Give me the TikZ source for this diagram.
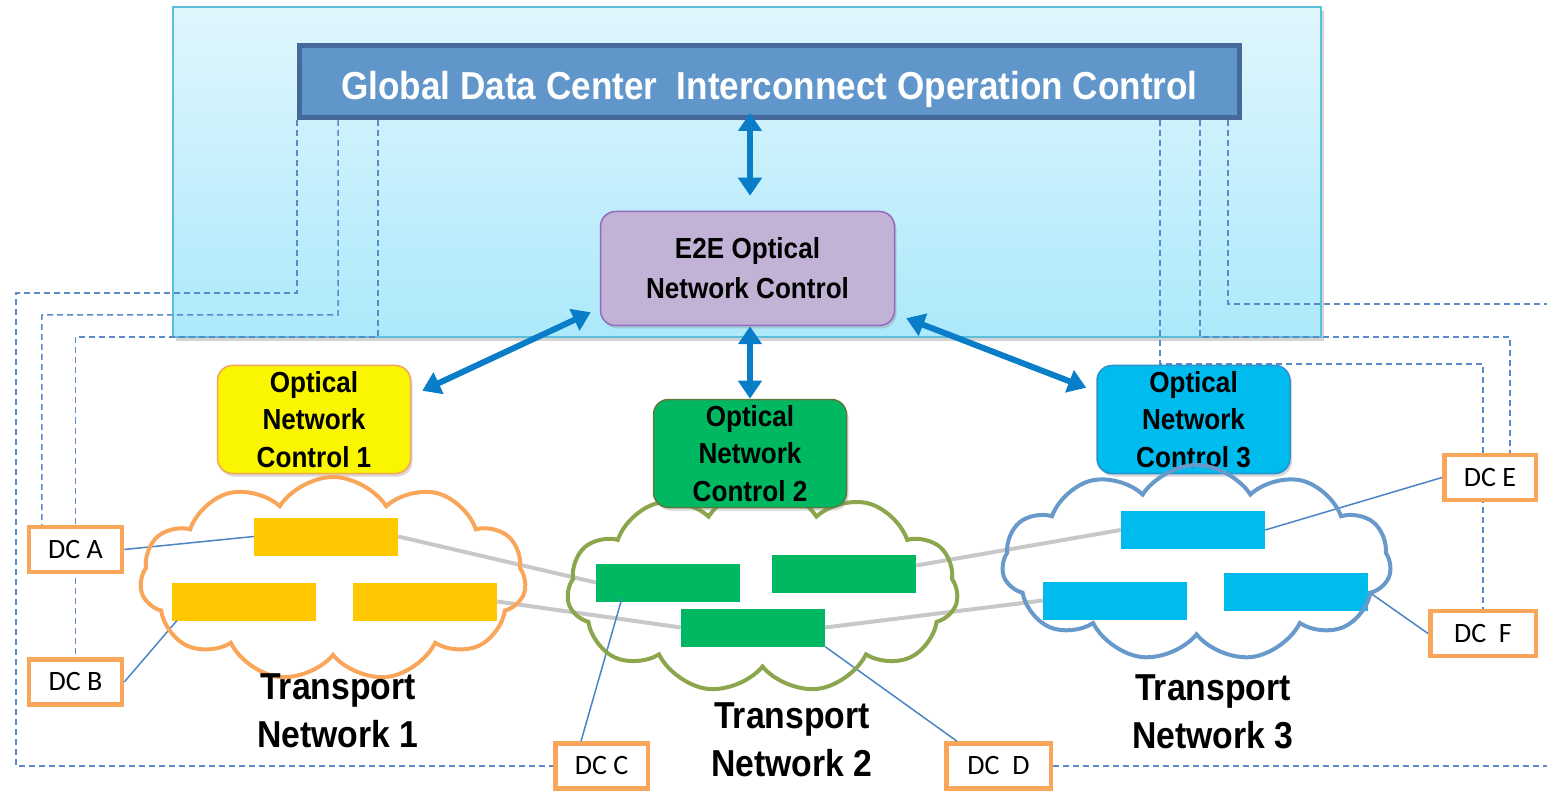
\documentclass[tikz,border=0pt]{standalone}
\usepackage{fontspec}
\setmainfont{Liberation Sans}
\newfontfamily\nar[FakeStretch=0.9]{Liberation Sans}
\newfontfamily\dcf{Carlito}
\usetikzlibrary{shapes.symbols,arrows.meta,shadows,calc}
\definecolor{bgtop}{HTML}{E0F6FD}
\definecolor{bgbot}{HTML}{ACE9FB}
\definecolor{bgborder}{HTML}{5BBFDA}
\definecolor{hdrfill}{HTML}{6196CB}
\definecolor{hdrborder}{HTML}{44699A}
\definecolor{e2efill}{HTML}{C2B3D6}
\definecolor{e2eborder}{HTML}{9469BE}
\definecolor{arrowblue}{HTML}{0A7DC8}
\definecolor{onconefill}{HTML}{FAF500}
\definecolor{ononeborder}{HTML}{F2A65A}
\definecolor{onctwofill}{HTML}{00B861}
\definecolor{onctwoborder}{HTML}{5E7B3D}
\definecolor{oncthreefill}{HTML}{00BBEE}
\definecolor{oncthreeborder}{HTML}{2B92CF}
\definecolor{rone}{HTML}{FFC800}
\definecolor{rtwo}{HTML}{00B861}
\definecolor{rthree}{HTML}{00BBEE}
\definecolor{linkgrey}{HTML}{C8C8C8}
\definecolor{thinblue}{HTML}{4A84C4}
\definecolor{dashblue}{HTML}{5A8BC8}
\definecolor{dcborder}{HTML}{F9A55A}
\definecolor{cloudone}{HTML}{F9A65A}
\definecolor{cloudtwo}{HTML}{8BA64D}
\definecolor{cloudthree}{HTML}{6899CB}
\pgfdeclarelayer{back}
\pgfdeclarelayer{mid}
\pgfsetlayers{back,mid,main}
\begin{document}
\begin{tikzpicture}[x=1pt,y=-1pt,
  bgbox/.style={draw=bgborder, line width=1.5pt, top color=bgtop, bottom color=bgbot,
     minimum width=1148pt, minimum height=330pt, inner sep=0,
     drop shadow={shadow xshift=3pt, shadow yshift=-4pt, opacity=0.35}},
  hdrbox/.style={draw=hdrborder, fill=hdrfill, line width=5pt, minimum width=940pt,
     minimum height=72pt, inner sep=0, text=white,
     font=\nar\bfseries\fontsize{39}{46}\selectfont},
  ctlbox/.style={rounded corners=15pt, line width=1.5pt, inner sep=0, align=center,
     drop shadow={shadow xshift=2pt, shadow yshift=-3pt, opacity=0.3}},
  e2ebox/.style={ctlbox, draw=e2eborder, fill=e2efill, minimum width=294pt,
     minimum height=114pt, font=\nar\bfseries\fontsize{29}{40}\selectfont},
  oncbox/.style={ctlbox, minimum width=193pt, minimum height=108pt,
     font=\nar\bfseries\fontsize{29}{37.5}\selectfont},
  bigarrow/.style={draw=arrowblue, line width=6pt,
     arrows={Triangle[length=18pt,width=23pt]-Triangle[length=18pt,width=23pt]}},
  netrect/.style={minimum width=144pt, minimum height=38pt, inner sep=0},
  dcbox/.style={draw=dcborder, fill=white, line width=4.5pt, minimum height=45pt,
     inner sep=0, font=\dcf\fontsize{28}{32}\selectfont},
  dl/.style={draw=dashblue, line width=1.5pt, dash pattern=on 6pt off 4pt},
  greylink/.style={draw=linkgrey, line width=4pt},
  thinlink/.style={draw=thinblue, line width=1.5pt},
  netcloud/.style={cloud, cloud puffs=11, cloud puff arc=115, cloud ignores aspect,
     line width=4pt, inner sep=0},
  tnlabel/.style={align=center, font=\nar\bfseries\fontsize{37.5}{48}\selectfont}
]
\useasboundingbox (0,0) rectangle (1547,791);

% header and control boxes
\node[hdrbox] (hdr) at (769.5,81.5) {\raisebox{-18pt}[0pt][0pt]{Global Data Center~ Interconnect Operation Control}};
\node[e2ebox] (e2e) at (747.5,268.5) {E2E Optical\\Network Control};
\node[oncbox, draw=ononeborder, fill=onconefill] (onc1) at (314,419.5) {Optical\\Network\\Control 1};
\node[oncbox, draw=oncthreeborder, fill=oncthreefill] (onc3) at (1193.5,419.5) {Optical\\Network\\Control 3};

% network element rectangles
\node[netrect, fill=rone] (r1a) at (326,536.5) {};
\node[netrect, fill=rone] (r1b) at (244,601.5) {};
\node[netrect, fill=rone] (r1c) at (425,601.5) {};
\node[netrect, fill=rtwo] (r2a) at (668,582.5) {};
\node[netrect, fill=rtwo] (r2b) at (844,573.5) {};
\node[netrect, fill=rtwo] (r2c) at (753,627.5) {};
\node[netrect, fill=rthree] (r3a) at (1193,530) {};
\node[netrect, fill=rthree] (r3b) at (1115,600.5) {};
\node[netrect, fill=rthree] (r3c) at (1296,591.5) {};

% data centers
\node[dcbox, minimum width=93pt] (dca) at (75.5,549.5) {DC A};
\node[dcbox, minimum width=93pt] (dcb) at (75.5,682) {DC B};
\node[dcbox, minimum width=92.5pt] (dcc) at (601.5,766) {DC C};
\node[dcbox, minimum width=104.5pt] (dcd) at (998.5,766) {DC~~D};
\node[dcbox, minimum width=91.5pt] (dce) at (1490,477.5) {DC E};
\node[dcbox, minimum width=105.5pt] (dcf) at (1483,633.5) {DC~~F};

% links between networks
\draw[greylink] (r1a.east) -- (r2a.west);
\draw[greylink] (r1c.east) -- (r2c.west);
\draw[greylink] ([yshift=8pt]r2b.east) -- (r3a.west);
\draw[greylink] (r2c.east) -- (r3b.west);

% data center access links
\draw[thinlink] (dca.east) -- (r1a.west);
\draw[thinlink] (dcb.east) -- ([xshift=5pt]r1b.south west);
\draw[thinlink] ([xshift=28pt]dcc.north west) -- ($(r2a.south west)+(26,-3)$);
\draw[thinlink] ([xshift=13pt]dcd.north west) -- (r2c.south east);
\draw[thinlink] (dce.west) -- (r3a.east);
\draw[thinlink] (dcf.west) -- (r3c.east);

% clouds
\node[netcloud, draw=cloudone, minimum width=386pt, minimum height=204pt] (c1) at (333,579) {};
\node[netcloud, draw=cloudtwo, minimum width=391pt, minimum height=206pt] (c2) at (762.5,590) {};
\node[netcloud, draw=cloudthree, minimum width=389pt, minimum height=196pt] (c3) at (1196.5,563) {};

% control box 2 lies over its cloud
\node[oncbox, draw=onctwoborder, fill=onctwofill] (onc2) at (750,453.5) {Optical\\Network\\Control 2};

% control arrows
\draw[bigarrow] ([xshift=-19.5pt,yshift=7pt]hdr.south) -- ([xshift=2.5pt,yshift=15pt]e2e.north);
\draw[bigarrow] ([xshift=2.5pt]e2e.south) -- (onc2.north);
\draw[bigarrow] ($(e2e.south west)+(-9,-14)$) -- ($(onc1.north east)+(11,26)$);
\draw[bigarrow] ($(e2e.south east)+(11,-8)$) -- ($(onc3.north west)+(-10,23)$);

% network labels
\node[tnlabel] (tn1) at (338,711) {Transport\\Network 1};
\node[tnlabel] (tn2) at (792,740) {Transport\\Network 2};
\node[tnlabel] (tn3) at (1213,712) {Transport\\Network 3};

% free ends of the dashed lines leaving the picture
\coordinate (offR) at (1547,304);
\coordinate (offB) at (1547,766);

\begin{pgfonlayer}{back}
\node[bgbox] (bg) at (747,172) {};
\end{pgfonlayer}
\begin{pgfonlayer}{mid}
\draw[dl] (hdr.south west) |- (16,293) |- (dcc.west);
\draw[dl] ([xshift=41pt]hdr.south west) |- (42,315) -- ([xshift=15pt]dca.north west);
\draw[dl] ([xshift=81pt]hdr.south west) |- (75.5,337) -- (dcb.north);
\draw[dl] ([xshift=-82pt]hdr.south east) |- (1483,364) -- (dcf.north);
\draw[dl] ([xshift=-42pt]hdr.south east) |- (1510,337) -- ([xshift=20pt]dce.north);
\draw[dl] ([xshift=-14pt]hdr.south east) |- (offR);
\draw[dl] (dcd.east) -- (offB);
\end{pgfonlayer}
\end{tikzpicture}
\end{document}
